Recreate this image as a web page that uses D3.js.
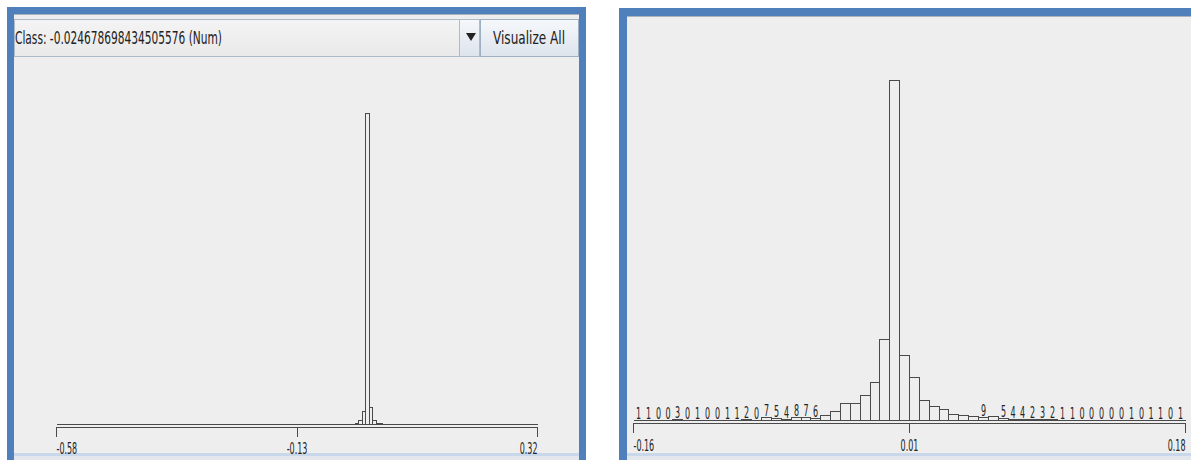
<!DOCTYPE html>
<html lang="en">
<head>
<meta charset="utf-8"/>
<style>
    body { margin: 0; background: #fff; }
    svg { display: block; }
    text { font-family: "DejaVu Sans", sans-serif; fill: #222; }
    path.bar { fill: none; stroke: #4a4a4a; stroke-width: 1px; shape-rendering: crispEdges; }
    .axis path, .axis line { stroke: #4a4a4a; shape-rendering: crispEdges; }
</style>
<script src="https://cdnjs.cloudflare.com/ajax/libs/d3/7.8.5/d3.min.js"></script>
</head>
<body>
<svg id="chart" width="1191" height="460"></svg>
<script>
// values
var classLabel = 'Class: -0.024678698434505576 (Num)';

var leftDomain = [-0.58, 0.32];
var leftTicks = [-0.58, -0.13, 0.32];
var leftTickLabels = ['-0.58', '-0.13', '0.32'];
var leftCounts = [
    0,0,0,0,0,0,0,0,0,0, 0,0,0,0,0,0,0,0,0,0,
    0,0,0,0,0,0,0,0,0,0, 0,0,0,0,0,0,0,0,0,0,
    0,0,0,0,0,0,0,0,0,0, 0,0,0,0,0,0,0,0,0,0,
    0,0,0,0,0,0,0,0,0,0, 0,0,0,0,0,0,0,0,0,0,
    0,0,0,0,0,0,0,6,24,72, 1790,96,22,5,4,0,0,0,0,0,
    0,0,0,0,0,0,0,0,0,0, 0,0,0,0,0,0,0,0,0,0,
    0,0,0,0,0,0,0,0,0,0, 0,0,0,0,0,0,0,0,0,0
];

var rightDomain = [-0.16, 0.18];
var rightTicks = [-0.16, 0.01, 0.18];
var rightTickLabels = ['-0.16', '0.01', '0.18'];
var rightCounts = [
    1,1,0,0,3,0,1,0,0,1,1,2,0,7,5,4,8,7,6,
    13,24,46,46,68,105,225,940,179,119,54,40,31,17,13,10,
    9,10,
    5,4,4,2,3,2,1,1,0,0,0,0,0,1,0,1,1,0,1
];

var svg = d3.select('#chart');
var defs = svg.append('defs');

function grad(id, c0, c1) {
    var g = defs.append('linearGradient').attr('id', id)
        .attr('x1', 0).attr('y1', 0).attr('x2', 0).attr('y2', 1);
    g.append('stop').attr('offset', '0%').attr('stop-color', c0);
    g.append('stop').attr('offset', '100%').attr('stop-color', c1);
}
grad('fieldGrad', '#f4f4f4', '#e9e9e9');
grad('btnGrad', '#f6f8fb', '#dde4ec');

// panel frames
function frame(x, y, w, h, t) {
    svg.append('rect').attr('x', x).attr('y', y).attr('width', w).attr('height', h).attr('fill', '#4f80bc');
    svg.append('rect').attr('x', x + t).attr('y', y + t).attr('width', w - 2 * t).attr('height', h)
        .attr('fill', '#eeeeee');
    svg.append('line').attr('x1', x + t).attr('x2', x + w - t).attr('y1', y + t + 0.5).attr('y2', y + t + 0.5)
        .attr('stroke', '#a9b3bd');
    // light strip at the bottom edge
    svg.append('rect').attr('x', x + t).attr('y', 453).attr('width', w - 2 * t).attr('height', 3)
        .attr('fill', '#c8d7ea');
    svg.append('rect').attr('x', x + t).attr('y', 456).attr('width', w - 2 * t).attr('height', 4)
        .attr('fill', '#e3e7ec');
}
frame(7, 7, 579, 460, 7);
frame(619, 8, 620, 460, 8);

// left header: combo box + button
svg.append('rect').attr('x', 14.5).attr('y', 19.5).attr('width', 445).attr('height', 37)
    .attr('fill', 'url(#fieldGrad)').attr('stroke', '#aebbc9');
svg.append('rect').attr('x', 459.5).attr('y', 19.5).attr('width', 20).attr('height', 37)
    .attr('fill', 'url(#btnGrad)').attr('stroke', '#aebbc9');
svg.append('path').attr('d', 'M466,33 L476,33 L471,41 Z').attr('fill', '#222');
svg.append('rect').attr('x', 480.5).attr('y', 19.5).attr('width', 98).attr('height', 37)
    .attr('fill', 'url(#btnGrad)').attr('stroke', '#9fb0c3');
svg.append('text').attr('x', 15).attr('y', 44).attr('font-size', 18)
    .attr('textLength', 207).attr('lengthAdjust', 'spacingAndGlyphs').text(classLabel);
svg.append('text').attr('x', 493).attr('y', 44).attr('font-size', 18)
    .attr('textLength', 72).attr('lengthAdjust', 'spacingAndGlyphs').text('Visualize All');

function histogram(opt) {
    var n = opt.counts.length;
    var step = (opt.domain[1] - opt.domain[0]) / n;
    var x = d3.scaleLinear().domain(opt.domain).range(opt.xRange);
    var y = d3.scaleLinear().domain([0, d3.max(opt.counts)]).range([opt.base, opt.top]);
    var g = svg.append('g');

    var bars = opt.counts.map(function (c, i) {
        return {c: c, x0: Math.round(x(opt.domain[0] + i * step)) + 0.5,
                x1: Math.round(x(opt.domain[0] + (i + 1) * step)) + 0.5,
                y: Math.round(y(c)) + 0.5};
    });

    g.selectAll('path.bar').data(bars).enter().append('path')
        .attr('class', 'bar')
        .attr('d', function (d) {
            return 'M' + d.x0 + ',' + (opt.base + 0.5) + 'V' + d.y + 'H' + d.x1 + 'V' + (opt.base + 0.5) + 'Z';
        });

    // count labels, only where the number fits in the bar
    var bw = x(opt.domain[0] + step) - x(opt.domain[0]);
    g.selectAll('text.count').data(bars.filter(function (d) { return String(d.c).length * 5.5 < bw; }))
        .enter().append('text')
        .attr('class', 'count')
        .attr('font-size', 16)
        .attr('text-anchor', 'middle')
        .attr('transform', function (d) {
            return 'translate(' + (d.x0 + d.x1) / 2 + ',' + (d.y - 2) + ') scale(0.5,1)';
        })
        .text(function (d) { return d.c; });

    var axis = d3.axisBottom(x).tickValues(opt.ticks).tickSize(10).tickSizeOuter(0)
        .tickFormat(function (d, i) { return opt.tickLabels[i]; });
    var ag = g.append('g').attr('class', 'axis')
        .attr('transform', 'translate(0,' + (opt.base + 3) + ')')
        .call(axis);
    ag.selectAll('.tick line').attr('stroke', '#4a4a4a');
    ag.selectAll('.tick text')
        .attr('fill', '#222')
        .attr('font-size', 16)
        .attr('font-family', '"DejaVu Sans", sans-serif')
        .attr('dy', null)
        .attr('x', 0)
        .attr('y', opt.labelY - opt.base - 3)
        .attr('text-anchor', function (d, i) { return i === 0 ? 'start' : (i === opt.ticks.length - 1 ? 'end' : 'middle'); })
        .attr('transform', 'scale(0.5,1)');
}

histogram({counts: leftCounts, domain: leftDomain, ticks: leftTicks, tickLabels: leftTickLabels,
           xRange: [56, 537], base: 424, top: 113, labelY: 454});
histogram({counts: rightCounts, domain: rightDomain, ticks: rightTicks, tickLabels: rightTickLabels,
           xRange: [633, 1185], base: 420, top: 80, labelY: 451});
</script>
</body>
</html>
